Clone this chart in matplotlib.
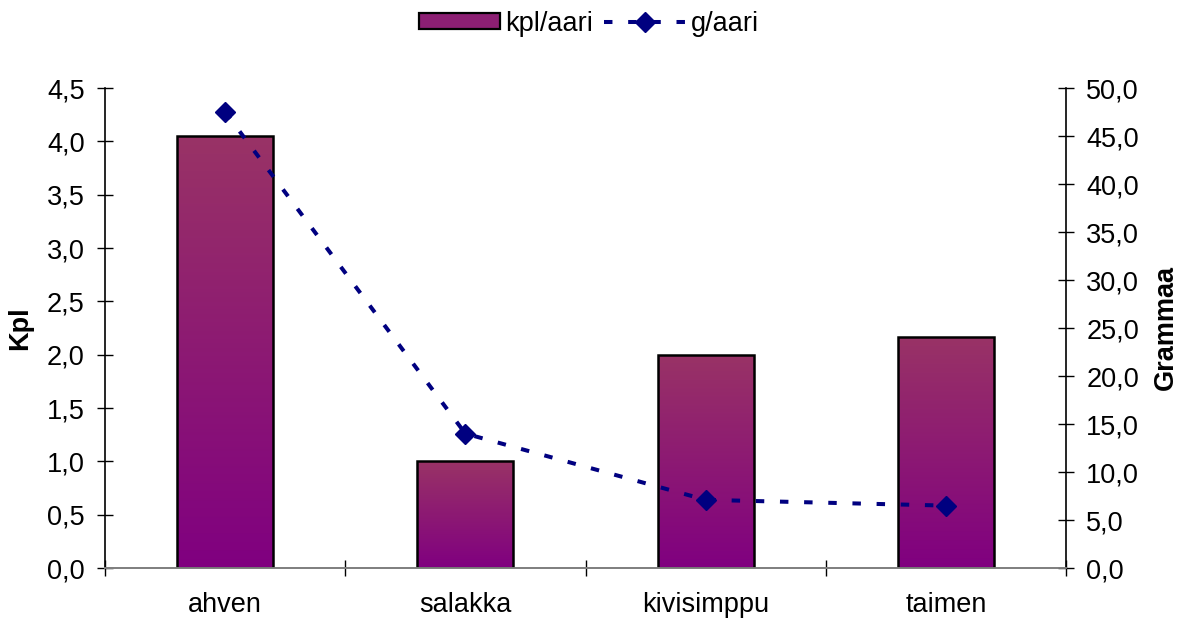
import numpy as np
import matplotlib
matplotlib.use("Agg")
import matplotlib.pyplot as plt
from matplotlib.patches import Patch
from matplotlib.lines import Line2D
from matplotlib.colors import LinearSegmentedColormap

plt.rcParams['font.family'] = ['Liberation Sans', 'DejaVu Sans']

# Data
categories = ["ahven", "salakka", "kivisimppu", "taimen"]
kpl_aari = [4.05, 1.0, 2.0, 2.17]
g_aari = [47.5, 14.0, 7.1, 6.5]
left_ticks = [0.0, 0.5, 1.0, 1.5, 2.0, 2.5, 3.0, 3.5, 4.0, 4.5]
right_ticks = [0, 5, 10, 15, 20, 25, 30, 35, 40, 45, 50]

FS = 19.5
bar_top = "#993366"
bar_bottom = "#800080"
line_color = "#000080"
dash = (0, (2.1, 3.9))

fig = plt.figure(figsize=(11.78, 6.19), dpi=100)
ax1 = fig.add_axes([105 / 1178, 51 / 619, 961 / 1178, 480 / 619])
ax2 = ax1.twinx()

x = np.arange(len(categories))

# Bars with a vertical gradient fill
cmap = LinearSegmentedColormap.from_list("bargrad", [bar_bottom, bar_top])
grad = np.linspace(0, 1, 256).reshape(-1, 1)
bars = ax1.bar(x, kpl_aari, width=0.4, facecolor="none", edgecolor="black",
               linewidth=1.8, zorder=3)
for b in bars:
    x0, w, h = b.get_x(), b.get_width(), b.get_height()
    im = ax1.imshow(grad, cmap=cmap, origin="lower", aspect="auto",
                    extent=[x0, x0 + w, 0, h], zorder=2, interpolation="bilinear")
    im.set_clip_path(b)
ax1.set_xlim(-0.5, len(categories) - 0.5)
ax1.set_ylim(0, 4.5)
ax2.set_ylim(0, 50)

# g/aari line with diamond markers
ax2.plot(x, g_aari, color=line_color, linewidth=2.9, linestyle=dash, zorder=4)
ax2.plot(x, g_aari, linestyle="none", marker="D", markersize=10,
         color=line_color, zorder=5)

# Axes styling
ax1.set_xticks(np.arange(-0.5, len(categories), 1.0))
ax1.set_xticklabels([])
ax1.set_xticks(x, minor=True)
ax1.set_xticklabels(categories, minor=True, fontsize=FS)
ax1.tick_params(axis="x", which="major", direction="inout", length=11, width=1, color="black")
ax1.tick_params(axis="x", which="minor", length=0, pad=17)

ax1.set_yticks(left_ticks)
ax1.set_yticklabels([f"{v:.1f}".replace(".", ",") for v in left_ticks], fontsize=FS)
ax1.tick_params(axis="y", direction="inout", length=11, width=1, pad=9)
ax2.set_yticks(right_ticks)
ax2.set_yticklabels([f"{v:.1f}".replace(".", ",") for v in right_ticks], fontsize=FS)
ax2.tick_params(axis="y", direction="inout", length=11, width=1, pad=9)

for a in (ax1, ax2):
    a.spines["top"].set_visible(False)
    a.spines["bottom"].set_color("#808080")
    a.spines["bottom"].set_linewidth(1.3)
    a.spines["left"].set_linewidth(1.2)
    a.spines["right"].set_linewidth(1.2)
ax1.spines["right"].set_visible(False)
ax2.spines["left"].set_visible(False)

ax1.set_ylabel("Kpl", fontsize=FS, fontweight="bold", labelpad=10)
ax2.set_ylabel("Grammaa", fontsize=FS, fontweight="bold", labelpad=10)

# Legend at the top
handles = [
    Patch(facecolor="#8c1f73", edgecolor="black", linewidth=1.6),
    Line2D([], [], color=line_color, linewidth=2.9, linestyle=dash,
           marker="D", markersize=10),
]
fig.legend(handles, ["kpl/aari", "g/aari"], loc="upper center",
           bbox_to_anchor=(0.5, 1.022), ncol=2, frameon=False, fontsize=FS,
           handlelength=3.0, handleheight=0.55, columnspacing=0.4, handletextpad=0.2)

fig.savefig("out.png", dpi=100)
